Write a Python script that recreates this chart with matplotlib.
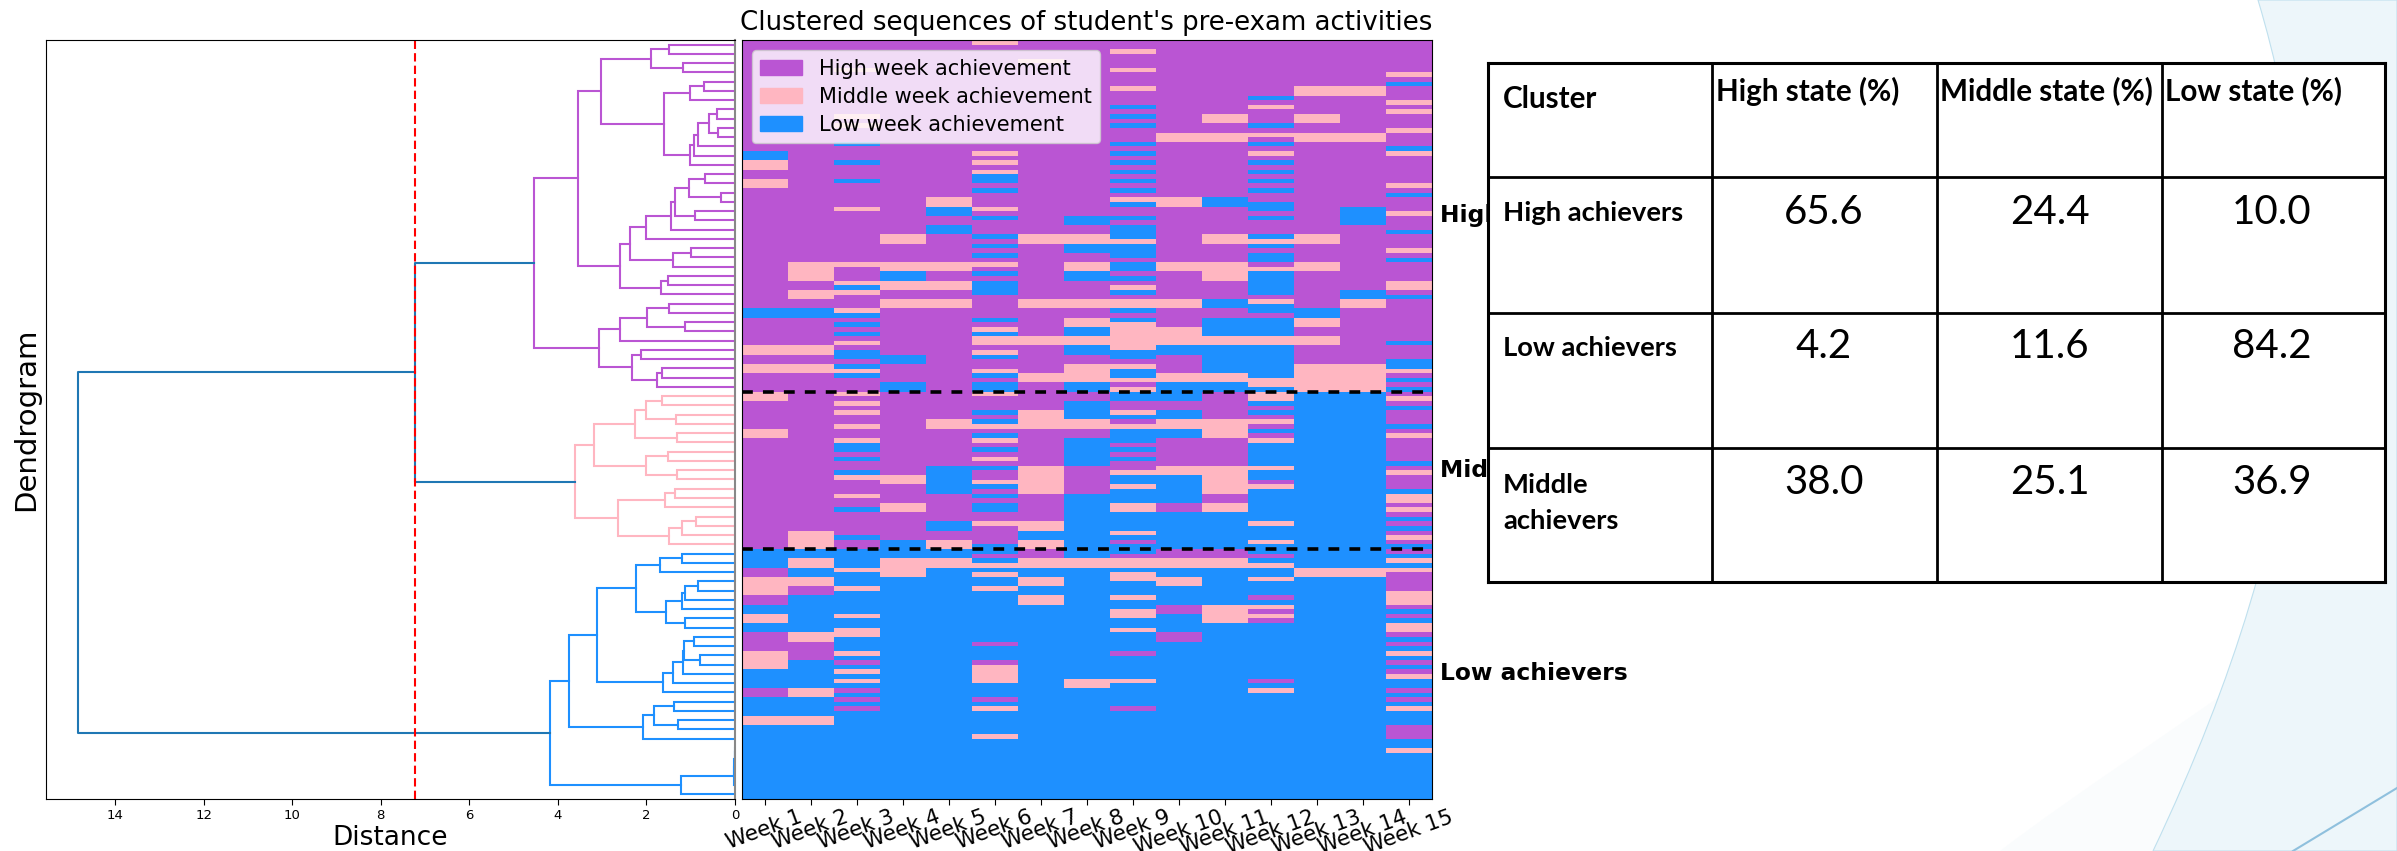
import numpy as np
import matplotlib
matplotlib.use("Agg")
import matplotlib.pyplot as plt
from matplotlib.colors import ListedColormap
from matplotlib.patches import Patch, PathPatch
from matplotlib.path import Path

W, H = 2397, 851

# state colours
HIGH_C = "#BA55D3"
MID_C = "#FFB6C1"
LOW_C = "#1E90FF"
LINK_C = "#1f77b4"

# heatmap columns: state letter + row where that run ends
week_1 = "H24 L26 M28 H30 M32 H58 L60 H66 M68 H70 M72 H76 M78 H84 M86 H110 L114 H116 M120 H122 L124 M126 L128 H132 M136 L140 H142 L146 M148 L164"
week_2 = "H48 M52 H54 M56 H58 L60 H66 M68 H70 M72 H106 M110 L112 M114 L116 M118 H120 L128 M130 H134 L140 M142 L146 M148 L164"
week_3 = "H6 M7 H16 M17 H18 M19 H22 L23 H26 L27 H30 L31 H36 M37 H48 M49 H52 M53 L54 M55 H58 M59 L60 H61 L62 H63 L64 H65 M66 H67 L69 H70 L71 M72 L73 H76 M77 H78 M79 H80 M81 H83 M84 H86 M87 L89 H90 L91 H93 L94 M95 H98 M99 H101 L102 H107 L108 H110 L114 M115 L118 M119 L124 M125 L127 M129 L132 M133 L134 H135 L136 M137 L138 M139 L140 H141 L142 H143 L144 H145 L164"
week_4 = "H42 M44 H48 M50 L52 M54 H56 M58 H68 L70 H74 L76 H94 M96 H100 M102 H108 L112 M116 L164"
week_5 = "H34 M36 L38 H40 L42 H48 M50 H52 M54 H56 M58 H82 M84 H92 L98 H104 L106 H108 M110 L112 M114 L164"
week_6 = "M1 H24 M25 H26 M27 H28 M29 L31 H32 L33 H36 M37 H38 L39 H42 L43 H44 L45 H46 L47 H48 M49 H50 L51 H52 L55 H60 L61 H62 M63 L64 M66 H67 M68 L69 H71 M72 L73 H74 L76 M77 H80 L81 H82 L83 M84 H85 L86 M87 H88 L89 H90 M91 H92 L93 H95 M96 L97 H98 L99 H100 L102 H104 M105 H109 L111 H112 L113 M114 L115 M116 L118 M119 L130 H131 L134 H135 M139 L142 H143 L144 M145 L150 M151 L164"
week_7 = "H4 M5 H42 M44 H56 M58 H64 M66 H72 M74 H80 M84 H92 M98 H104 M106 L108 M110 H112 M114 L116 M118 L120 M122 L164"
week_8 = "H38 L40 H42 M44 L46 H48 M50 L52 H56 M58 H60 M62 L64 M66 L68 H70 M74 L76 H78 L82 M84 H86 L92 H98 L112 M114 L138 M140 L164"
week_9 = "H2 M3 H6 M7 H10 M11 H14 L15 H16 L17 H18 L19 H22 L23 H24 L25 H26 L27 H28 L29 H30 L31 H32 L33 H34 M35 L36 H38 L39 H40 L43 M44 L47 H48 L50 H51 L52 H53 M54 L55 H56 M58 L59 H60 L61 M67 L69 H70 M71 L73 M74 H75 M76 L78 H80 M81 L82 H83 M84 L87 H88 L89 H90 L91 H93 M94 L96 M97 L100 M102 L106 M107 L108 H109 L111 H112 M114 L115 M117 L120 M121 L123 M125 L127 M128 L132 H133 L138 M139 L144 H145 L164"
week_10 = "H20 M22 H34 M36 H48 M50 H56 M58 H62 M66 L68 H72 M74 L78 H80 L82 M84 L86 H92 M94 L100 H102 L110 H112 M114 L116 M118 L122 H124 L128 H130 L164"
week_11 = "H16 M18 H20 M22 H34 L36 H42 M44 H48 M52 H56 L58 H60 L64 M66 L72 M74 L76 H82 M86 H92 M98 H100 M102 L110 H112 M114 L122 M126 L164"
week_12 = "H12 L13 H14 M15 H18 L19 H20 M21 H22 L23 H24 M25 H26 L27 H28 L29 H30 L31 H32 L33 H35 L37 H38 L39 H42 L43 M44 L45 H46 L48 H49 M50 L55 H56 M57 L59 H60 L64 M66 L73 M75 L76 M78 L79 H80 L81 H82 M83 H84 L85 H86 M87 L92 M93 L95 H96 M97 L104 M105 L108 M109 L111 H112 L113 M114 L116 M117 L120 H121 L122 M123 H124 M125 H126 L138 H139 L140 M141 L164"
week_13 = "H10 M12 H16 M18 H20 M22 H42 M44 H48 M50 H58 L60 M62 H64 M66 H70 M76 L114 M116 L164"
week_14 = "H10 M12 H20 M22 H36 L40 H54 L56 M58 H70 M76 L114 M116 L164"
week_15 = "H7 M8 H9 L10 H13 M14 H15 M16 H19 M20 H23 L24 M25 H31 M32 H33 L34 H37 M38 H41 L42 H45 M46 H47 L48 H52 M54 H55 L56 H65 L66 H69 L71 M72 H73 L74 H75 L76 H77 M78 H79 L80 H83 L84 H85 M86 H91 L92 H93 M94 H97 L98 M100 H101 M102 H103 L104 H105 L106 H107 M108 H109 L110 H111 L112 M113 L114 M115 H119 M122 H123 L124 H125 L126 M128 H129 L130 H131 L132 M133 L134 H135 L136 H137 M138 L140 H141 L142 H143 L144 M145 L148 H151 L153 M154 L164"
weeks = [week_1, week_2, week_3, week_4, week_5, week_6, week_7, week_8,
         week_9, week_10, week_11, week_12, week_13, week_14, week_15]
week_labels = ["Week %d" % i for i in range(1, 16)]
state_code = {"H": 0, "M": 1, "L": 2}

# dendrogram: (distance, upper child, lower child), 0 is a leaf
high_tree = (4.55,
    (3.54,
        (3.03,
            (1.89, (1.48, 0, 0), (1.18, 0, 0)),
            (1.60, (1.02, (0.70, 0, 0), 0),
                   (1.02, (0.93, (0.84, (0.59, (0.41, 0, 0), (0.38, 0, 0)), 0), 0), 0))),
        (2.60,
            (2.37,
                (2.00, (1.45, (1.36, (1.03, (0.67, 0, 0), (0.31, 0, 0)), (0.91, 0, 0)), 0), 0),
                (1.41, (0.99, 0, 0), 0)),
            (1.67, (1.51, 0, 0), 0))),
    (3.07,
        (2.60, (1.99, (1.48, 0, 0), (1.12, 0, 0)), 0),
        (2.33, (2.12, 0, 0), (1.76, (1.64, 0, 0), 0))))
mid_tree = (3.62,
    (3.18,
        (2.25, (2.00, (1.64, 0, 0), (1.33, 0, 0)), (1.30, 0, 0)),
        (2.02, (1.52, 0, 0), (1.30, 0, 0))),
    (2.64,
        (1.58, (1.35, 0, 0), 0),
        (1.49, (1.20, (0.88, 0, 0), 0), 0)))
low_tree = (4.18,
    (3.76,
        (3.11,
            (2.24,
                (1.69, (1.20, 0, 0), 0),
                (1.55, (1.20, (1.14, (0.84, 0, 0), 0), 0), (1.14, 0, 0))),
            (1.63, (1.39, (1.18, (1.15, (0.93, 0, 0), (0.78, 0, 0)), 0), 0), 0)),
        (2.07, (1.84, (1.37, 0, 0), (1.29, 0, 0)), 0)),
    (1.22, (0.02, (0.015, (0.01, (0.005, 0, 0), 0), 0), 0), 0))
root_height = 14.84
upper_height = 7.22
cut_distance = 7.22

cluster_names = ["High achievers", "Middle achievers", "Low achievers"]
cluster_breaks = [76, 110]

# table on the right
table_header = ["Cluster", "High state (%)", "Middle state (%)", "Low state (%)"]
table_rows = ["High achievers", "Low achievers", "Middle\nachievers"]
high_state = [65.6, 4.2, 38.0]
middle_state = [24.4, 11.6, 25.1]
low_state = [10.0, 84.2, 36.9]


def px_axes(left, top, right, bottom, **kw):
    return fig.add_axes([left / W, 1 - bottom / H, (right - left) / W, (bottom - top) / H], **kw)


def expand(week):
    cells = []
    for run in week.split():
        cells += [state_code[run[0]]] * (int(run[1:]) - len(cells))
    return cells


next_leaf = 0


def draw_tree(ax, node, color):
    # returns distance and y position of the node
    global next_leaf
    if node == 0:
        y = 5 + 10 * next_leaf
        next_leaf += 1
        return 0, y
    h, upper, lower = node
    h1, y1 = draw_tree(ax, upper, color)
    h2, y2 = draw_tree(ax, lower, color)
    ax.plot([h1, h, h, h2], [y1, y1, y2, y2], color=color, lw=1.5, solid_joinstyle="miter")
    return h, (y1 + y2) / 2


fig = plt.figure(figsize=(W / 100, H / 100), dpi=100, facecolor="white")

# background wave
bg = fig.add_axes([0, 0, 1, 1], zorder=-1)
bg.set_xlim(0, W)
bg.set_ylim(H, 0)
bg.axis("off")
codes = [Path.MOVETO, Path.CURVE4, Path.CURVE4, Path.CURVE4, Path.LINETO, Path.LINETO, Path.CLOSEPOLY]
faint = Path([(2000, 851), (2080, 790), (2160, 740), (2300, 640), (2397, 640), (2397, 851), (2000, 851)], codes)
bg.add_patch(PathPatch(faint, fc="#fafcfd", ec="none"))
wave = Path([(2258, 0), (2330, 240), (2320, 500), (2153, 851), (2397, 851), (2397, 0), (2258, 0)], codes)
bg.add_patch(PathPatch(wave, fc="#edf6fa", ec="#bfe0ee", lw=0.8))
bg.plot([2293, 2397], [851, 788], color="#8fc0dd", lw=1.5)

# dendrogram
ax_d = px_axes(46, 40, 735, 798.7)
h_hi, y_hi = draw_tree(ax_d, high_tree, HIGH_C)
h_mi, y_mi = draw_tree(ax_d, mid_tree, MID_C)
h_lo, y_lo = draw_tree(ax_d, low_tree, LOW_C)
ax_d.plot([h_hi, upper_height, upper_height, h_mi], [y_hi, y_hi, y_mi, y_mi], color=LINK_C, lw=1.5)
y_up = (y_hi + y_mi) / 2
ax_d.plot([upper_height, root_height, root_height, h_lo], [y_up, y_up, y_lo, y_lo], color=LINK_C, lw=1.5)
ax_d.axvline(cut_distance, color="red", ls=(0, (4, 2)), lw=1.5)
ax_d.set_xlim(15.56, 0)
ax_d.set_ylim(820, 0)
ax_d.set_yticks([])
ax_d.set_xticks(np.arange(0, 15, 2))
ax_d.tick_params(axis="x", labelsize=9.5, length=4)
ax_d.set_xlabel("Distance", fontsize=19, labelpad=2)
ax_d.set_ylabel("Dendrogram", fontsize=21, labelpad=4)
ax_d.spines["right"].set_color("#888888")
ax_d.spines["right"].set_linewidth(1.5)

# sequence heatmap
ax_h = px_axes(741.6, 40, 1431.5, 798.7)
matrix = np.array([expand(w) for w in weeks]).T
ax_h.imshow(matrix, aspect="auto", cmap=ListedColormap([HIGH_C, MID_C, LOW_C]),
            vmin=0, vmax=2, interpolation="nearest")
for b in cluster_breaks:
    ax_h.axhline(b - 0.5, color="black", lw=2.6, ls=(0, (3, 2.8)))
ax_h.set_yticks([])
ax_h.set_xticks(np.arange(15))
ax_h.set_xticklabels(week_labels, rotation=20, fontsize=15.5)
ax_h.tick_params(axis="x", length=4, pad=2)
ax_h.set_title("Clustered sequences of student's pre-exam activities", fontsize=18.7, pad=7)
handles = [Patch(color=HIGH_C, label="High week achievement"),
           Patch(color=MID_C, label="Middle week achievement"),
           Patch(color=LOW_C, label="Low week achievement")]
ax_h.legend(handles=handles, loc="upper left", fontsize=15, handlelength=2, borderaxespad=0.5, labelspacing=0.38)
spans = [0] + cluster_breaks + [matrix.shape[0]]
for i, name in enumerate(cluster_names):
    ax_h.annotate(name, xy=(1, (spans[i] + spans[i + 1]) / 2 - 0.5), xycoords=("axes fraction", "data"),
                  xytext=(6, 0), textcoords="offset points", va="center", ha="left",
                  fontsize=16.8, fontweight="bold", annotation_clip=False)

# results table, sits on top of the cluster labels
ax_t = px_axes(1488, 63, 2385, 582, zorder=5, facecolor="white")
ax_t.set_xlim(1488, 2385)
ax_t.set_ylim(582, 63)
ax_t.set_xticks([])
ax_t.set_yticks([])
col_edges = [1712, 1937, 2162]
row_edges = [177, 313, 448]
ax_t.vlines(col_edges, 63, 582, color="black", lw=2)
ax_t.hlines(row_edges, 1488, 2385, color="black", lw=2)
for s in ax_t.spines.values():
    s.set_linewidth(2.2)

table_font = ["Lato", "DejaVu Sans"]
head_x = [1503, 1716, 1940, 2165]
head_y = [99, 91, 91, 91]
for x, y, label in zip(head_x, head_y, table_header):
    ax_t.text(x, y, label, family=table_font, fontweight="bold", fontsize=21.3, va="center", ha="left")
row_y = [213, 348, 503]
for y, label in zip(row_y, table_rows):
    ax_t.text(1503, y, label, family=table_font, fontweight="bold", fontsize=19.7, va="center", ha="left", linespacing=1.6)
num_y = [213, 347, 483]
for cx, column in zip([1824, 2050, 2272], [high_state, middle_state, low_state]):
    for y, v in zip(num_y, column):
        ax_t.text(cx, y, "%.1f" % v, family=table_font, fontsize=29, va="center", ha="center")

fig.savefig("out.png", dpi=100)
